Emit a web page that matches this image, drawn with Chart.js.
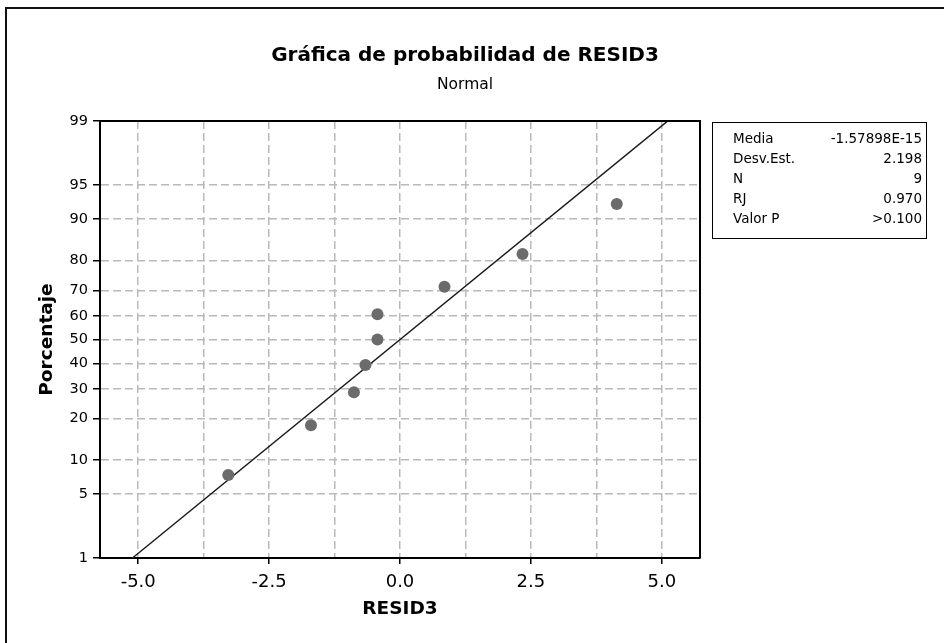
<!DOCTYPE html>
<html><head><meta charset="utf-8">
<script src="https://cdn.jsdelivr.net/npm/chart.js@4/dist/chart.umd.min.js"></script>
<style>
html,body{margin:0;padding:0;background:#fff;overflow:hidden;}
#wrap{position:relative;width:944px;height:643px;}
#frame{position:absolute;left:5px;top:7px;width:1000px;height:1000px;border-top:2px solid #111;border-left:2px solid #111;pointer-events:none;}
#stats{position:absolute;left:712px;top:122px;width:215px;height:117px;border:1px solid #000;font-family:'DejaVu Sans',sans-serif;font-size:13.5px;color:#000;box-sizing:border-box;padding:5px 4px 0 20px;}
.row{display:flex;justify-content:space-between;height:20px;line-height:20px;white-space:nowrap;}
</style></head>
<body><div id="wrap"><canvas id="c" width="944" height="643"></canvas><div id="frame"></div><div id="stats"></div></div>
<script>
// ---- data ----
const residuals = [-3.28, -1.70, -0.88, -0.66, -0.43, -0.43, 0.85, 2.34, 4.14];
const percents  = [7.45, 18.09, 28.72, 39.36, 50.00, 60.64, 71.28, 81.91, 92.55];
const fitX      = [-5.11, 5.11];
const fitPct    = [1, 99];
const yTickPct  = [1, 5, 10, 20, 30, 40, 50, 60, 70, 80, 90, 95, 99];
const xTickVals = [-5.0, -3.75, -2.5, -1.25, 0, 1.25, 2.5, 3.75, 5.0];
const xLabelVals = [-5.0, -2.5, 0, 2.5, 5.0];
const statLabels = ['Media', 'Desv.Est.', 'N', 'RJ', 'Valor P'];
const statValues = ['-1.57898E-15', '2.198', '9', '0.970', '>0.100'];

// inverse standard normal CDF (Acklam)
function probit(p){
  const a=[-3.969683028665376e+01,2.209460984245205e+02,-2.759285104469687e+02,1.383577518672690e+02,-3.066479806614716e+01,2.506628277459239e+00];
  const b=[-5.447609879822406e+01,1.615858368580409e+02,-1.556989798598866e+02,6.680131188771972e+01,-1.328068155288572e+01];
  const c=[-7.784894002430293e-03,-3.223964580411365e-01,-2.400758277161838e+00,-2.549671010229420e+00,4.374664141464968e+00,2.938163982698783e+00];
  const d=[7.784695709041462e-03,3.224671290700398e-01,2.445134137142996e+00,3.754408661907416e+00];
  const pl=0.02425, ph=1-pl; let q,r;
  if(p<pl){q=Math.sqrt(-2*Math.log(p));return (((((c[0]*q+c[1])*q+c[2])*q+c[3])*q+c[4])*q+c[5])/((((d[0]*q+d[1])*q+d[2])*q+d[3])*q+1);}
  if(p<=ph){q=p-0.5;r=q*q;return (((((a[0]*r+a[1])*r+a[2])*r+a[3])*r+a[4])*r+a[5])*q/(((((b[0]*r+b[1])*r+b[2])*r+b[3])*r+b[4])*r+1);}
  q=Math.sqrt(-2*Math.log(1-p));return -(((((c[0]*q+c[1])*q+c[2])*q+c[3])*q+c[4])*q+c[5])/((((d[0]*q+d[1])*q+d[2])*q+d[3])*q+1);
}

class ProbitScale extends Chart.LinearScale {
  determineDataLimits(){ this.min = this.options.min; this.max = this.options.max; }
  buildTicks(){ return yTickPct.map(v => ({value: v})); }
  configure(){ super.configure(); this._zMin = probit(this.min/100); this._zMax = probit(this.max/100); }
  getPixelForValue(v){ return this.getPixelForDecimal((probit(v/100) - this._zMin) / (this._zMax - this._zMin)); }
  getValueForPixel(px){
    const z = this._zMin + this.getDecimalForPixel(px) * (this._zMax - this._zMin);
    return 50 * (1 + Math.tanh(z * 0.7978845608 * (1 + 0.044715 * z * z)));
  }
}
ProbitScale.id = 'probit';
ProbitScale.defaults = {};
Chart.register(ProbitScale);

// stats table
const stats = document.getElementById('stats');
statLabels.forEach((l, i) => {
  const r = document.createElement('div'); r.className = 'row';
  const a = document.createElement('span'); a.textContent = l;
  const b = document.createElement('span'); b.textContent = statValues[i];
  r.appendChild(a); r.appendChild(b); stats.appendChild(r);
});

const F = "'DejaVu Sans', sans-serif";
Chart.defaults.font.family = F;
Chart.defaults.color = '#000';

const framePlugin = {
  id: 'frame',
  afterDatasetsDraw(chart){
    const {ctx, chartArea: a} = chart;
    ctx.save(); ctx.strokeStyle = '#000'; ctx.lineWidth = 2;
    ctx.beginPath(); ctx.moveTo(a.left, a.top); ctx.lineTo(a.right, a.top); ctx.lineTo(a.right, a.bottom); ctx.stroke();
    ctx.restore();
  }
};

new Chart(document.getElementById('c'), {
  type: 'scatter',
  data: { datasets: [
    { type: 'line', label: 'Ajuste', data: fitX.map((x, i) => ({x, y: fitPct[i]})),
      borderColor: '#1a1a1a', borderWidth: 1.4, pointRadius: 0, fill: false, tension: 0, order: 1 },
    { type: 'scatter', label: 'RESID3', data: residuals.map((x, i) => ({x, y: percents[i]})),
      backgroundColor: '#6b6b6b', borderWidth: 0, pointRadius: 6, order: 0 }
  ]},
  options: {
    responsive: false, animation: false, devicePixelRatio: 1,
    layout: { padding: { left: 0, right: 14, top: 0, bottom: 0 } },
    plugins: {
      legend: { display: false }, tooltip: { enabled: false },
      title: { display: true, text: 'Gráfica de probabilidad de RESID3', color: '#000',
        font: { family: F, size: 20, weight: 'bold' }, padding: { top: 44, bottom: 0 } },
      subtitle: { display: true, text: 'Normal', color: '#000',
        font: { family: F, size: 15.5, weight: 'normal' }, padding: { top: 8, bottom: 26.5 } }
    },
    scales: {
      x: {
        type: 'linear', position: 'bottom', min: -5.73, max: 5.73,
        afterBuildTicks: s => { s.ticks = xTickVals.map(v => ({value: v})); },
        afterFit: s => { s.height = 85; },
        ticks: { autoSkip: false, maxRotation: 0, font: { size: 18 }, color: '#000', padding: 8,
          callback: v => xLabelVals.includes(v) ? v.toFixed(1) : '' },
        grid: { color: '#b9b9b9', lineWidth: 1.5, tickLength: 6, tickWidth: 1.5,
          tickColor: c => (c.tick && xLabelVals.includes(c.tick.value)) ? '#000' : 'rgba(0,0,0,0)' },
        border: { display: true, color: '#000', width: 2, dash: [8, 4] },
        title: { display: true, text: 'RESID3', color: '#000', font: { size: 18.5, weight: 'bold' }, padding: { top: 0, bottom: 23 } }
      },
      y: {
        type: 'probit', position: 'left', min: 1, max: 99,
        afterFit: s => { s.width = 100; },
        ticks: { autoSkip: false, font: { size: 14.5 }, color: '#000', padding: 5, callback: v => String(v) },
        grid: { color: '#b9b9b9', lineWidth: 1.5, tickLength: 7, tickWidth: 1.5, tickColor: '#000' },
        border: { display: true, color: '#000', width: 2, dash: [8, 4] },
        title: { display: true, text: 'Porcentaje', color: '#000', font: { size: 18.5, weight: 'bold' }, padding: { top: 36, bottom: 0 } }
      },
      y2: {
        type: 'linear', position: 'right', display: true,
        ticks: { display: false }, grid: { display: false }, border: { display: false },
        afterFit: s => { s.width = 230; }
      }
    }
  },
  plugins: [framePlugin]
});
</script>
</body></html>
